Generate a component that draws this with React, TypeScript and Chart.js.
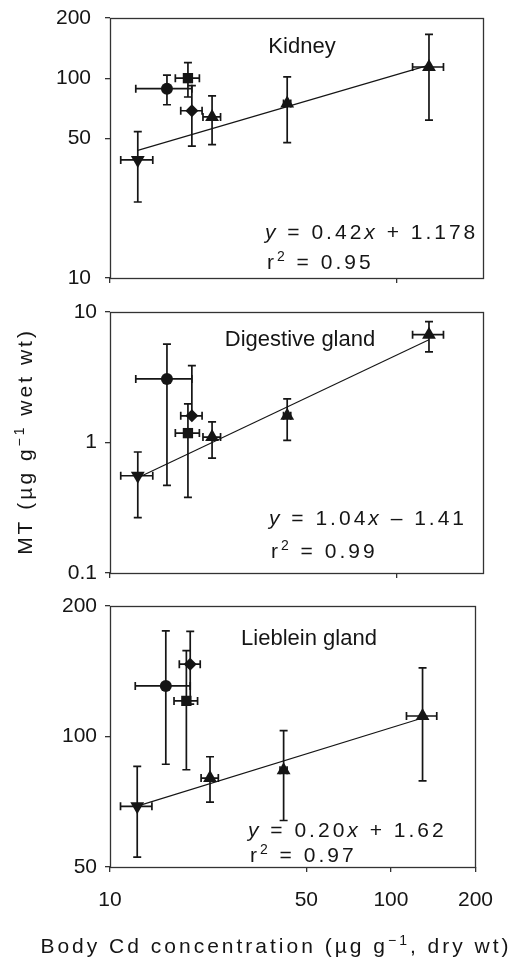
import React, { useEffect, useRef } from "react";
import { Chart, registerables } from "chart.js";

Chart.register(...registerables);

// ---------- data ----------
const bodyCd = [12.5, 15.8, 18.7, 19.3, 22.7, 41.5, 129.6];
const bodyCdErr = [1.6, 3.5, 1.8, 1.65, 1.6, 1.2, 16];
const markerStyles = ["down", "circle", "square", "diamond", "up", "up", "up"];

const kidneyMT = [39, 88.6, 100, 68.7, 64, 74.6, 113.7];
const kidneyErr = [15, 15, 19.5, 23, 17.5, 27, 52];

const digestiveMT = [0.556, 3.07, 1.18, 1.6, 1.1, 1.6, 6.7];
const digestiveErr = [0.29, 2.6, 0.8, 2.28, 0.34, 0.56, 1.75];

const liebleinMT = [69, 130.8, 120.8, 146.8, 80.2, 83.6, 111.5];
const liebleinErr = [16.3, 44.5, 37, 28, 9.6, 19.6, 32.5];

const panelLabels = ["Kidney", "Digestive gland", "Lieblein gland"];
const slopes = [0.42, 1.04, 0.2];
const intercepts = [1.178, -1.41, 1.62];
const slopeText = ["0.42", "1.04", "0.20"];
const signText = ["+", "\u2013", "+"];
const interceptText = ["1.178", "1.41", "1.62"];
const r2Text = ["0.95", "0.99", "0.97"];

const kidneyTicks = [10, 50, 100, 200];
const digestiveTicks = [0.1, 1, 10];
const liebleinTicks = [50, 100, 200];
const xTicksUpper = [10, 100];
const xTicksBottom = [10, 50, 100, 200];

const xTitleParts = ["Body Cd concentration (\u00b5g g", "\u22121", ", dry wt)"];
const yTitleParts = ["MT (\u00b5g g", "\u22121", " wet wt)"];

// ---------- styles ----------
const FAMILY = '"Liberation Sans", Arial, Helvetica, sans-serif';
const INK = "#151515";
const FRAME = "#333333";

type Seg = { t: string; italic?: boolean; sup?: boolean };

function drawRich(
  ctx: CanvasRenderingContext2D,
  segs: Seg[],
  x: number,
  y: number,
  size: number,
  spacing: number,
  align: "left" | "center"
) {
  const fontFor = (s: Seg) =>
    `${s.italic ? "italic " : ""}${s.sup ? Math.round(size * 0.65) : size}px ${FAMILY}`;
  (ctx as any).letterSpacing = spacing + "px";
  ctx.textBaseline = "alphabetic";
  ctx.textAlign = "left";
  const widths = segs.map((s) => {
    ctx.font = fontFor(s);
    return ctx.measureText(s.t).width;
  });
  const total = widths.reduce((a, b) => a + b, 0);
  let cx = align === "center" ? x - total / 2 : x;
  segs.forEach((s, i) => {
    ctx.font = fontFor(s);
    ctx.fillText(s.t, cx, s.sup ? y - size * 0.4 : y);
    cx += widths[i];
  });
  (ctx as any).letterSpacing = "0px";
}

const errorBarPlugin = {
  id: "errbars",
  beforeDatasetsDraw(chart: any) {
    const { ctx, chartArea, scales } = chart;
    const xs = scales.x;
    const ys = scales.y;
    ctx.save();
    ctx.strokeStyle = FRAME;
    ctx.lineWidth = 1.3;
    ctx.strokeRect(
      Math.round(chartArea.left) + 0.5,
      Math.round(chartArea.top) + 0.5,
      Math.round(chartArea.right - chartArea.left),
      Math.round(chartArea.bottom - chartArea.top)
    );
    ctx.strokeStyle = INK;
    ctx.lineWidth = 1.7;
    const cap = 4;
    chart.data.datasets.forEach((ds: any) => {
      if (!ds.errorBars) return;
      ds.data.forEach((p: any) => {
        const px = xs.getPixelForValue(p.x);
        const py = ys.getPixelForValue(p.y);
        const top = ys.getPixelForValue(p.y + p.yErr);
        ctx.beginPath();
        ctx.moveTo(px, py);
        ctx.lineTo(px, top);
        ctx.moveTo(px - cap, top);
        ctx.lineTo(px + cap, top);
        if (p.y - p.yErr > 0) {
          const bot = ys.getPixelForValue(p.y - p.yErr);
          ctx.moveTo(px, py);
          ctx.lineTo(px, bot);
          ctx.moveTo(px - cap, bot);
          ctx.lineTo(px + cap, bot);
        }
        const l = xs.getPixelForValue(p.x - p.xErr);
        const r = xs.getPixelForValue(p.x + p.xErr);
        ctx.moveTo(l, py);
        ctx.lineTo(r, py);
        ctx.moveTo(l, py - cap);
        ctx.lineTo(l, py + cap);
        ctx.moveTo(r, py - cap);
        ctx.lineTo(r, py + cap);
        ctx.stroke();
      });
    });
    ctx.restore();
  },
};

const textPlugin = {
  id: "paneltext",
  afterDraw(chart: any, _args: any, opts: any) {
    const ctx: CanvasRenderingContext2D = chart.ctx;
    ctx.save();
    ctx.fillStyle = INK;
    drawRich(ctx, [{ t: opts.label }], opts.labelPos[0], opts.labelPos[1], 22, 0, "center");
    drawRich(
      ctx,
      [
        { t: "y", italic: true },
        { t: " = " + opts.slope },
        { t: "x", italic: true },
        { t: " " + opts.sign + " " + opts.intercept },
      ],
      opts.eqPos[0],
      opts.eqPos[1],
      21,
      3,
      "left"
    );
    drawRich(
      ctx,
      [{ t: "r" }, { t: "2", sup: true }, { t: " = " + opts.r2 }],
      opts.r2Pos[0],
      opts.r2Pos[1],
      21,
      3,
      "left"
    );
    if (opts.xTitle) {
      drawRich(
        ctx,
        [{ t: xTitleParts[0] }, { t: xTitleParts[1], sup: true }, { t: xTitleParts[2] }],
        opts.xTitle[0],
        opts.xTitle[1],
        21,
        3,
        "center"
      );
    }
    if (opts.yTitle) {
      ctx.save();
      ctx.translate(opts.yTitle[0], opts.yTitle[1]);
      ctx.rotate(-Math.PI / 2);
      drawRich(
        ctx,
        [{ t: yTitleParts[0] }, { t: yTitleParts[1], sup: true }, { t: yTitleParts[2] }],
        0,
        0,
        21,
        3,
        "center"
      );
      ctx.restore();
    }
    ctx.restore();
  },
};

// ---------- layout ----------
const W = 509;
const panels = [
  {
    mt: kidneyMT, err: kidneyErr, yMin: 10, yMax: 200, yTicks: kidneyTicks, xTicks: xTicksUpper,
    showX: false, top: 0, height: 300, padTop: 18, xAxisH: 22, yPad: 14,
    labelPos: [302, 53], eqPos: [265, 239], r2Pos: [267, 269],
  },
  {
    mt: digestiveMT, err: digestiveErr, yMin: 0.1, yMax: 10, yTicks: digestiveTicks, xTicks: xTicksUpper,
    showX: false, top: 300, height: 290, padTop: 12, xAxisH: 17, yPad: 8,
    labelPos: [300, 46], eqPos: [269, 225], r2Pos: [271, 258], yTitle: [32, 141.5],
  },
  {
    mt: liebleinMT, err: liebleinErr, yMin: 50, yMax: 200, yTicks: liebleinTicks, xTicks: xTicksBottom,
    showX: true, top: 590, height: 367, padTop: 16, xAxisH: 90, yPad: 8,
    labelPos: [309, 55], eqPos: [248, 247], r2Pos: [250, 272], xTitle: [276, 363],
  },
];

function styleOf(s: string) {
  if (s === "circle") return { style: "circle", rot: 0, r: 6 };
  if (s === "square") return { style: "rect", rot: 0, r: 7.3 };
  if (s === "diamond") return { style: "rectRot", rot: 0, r: 6.5 };
  if (s === "down") return { style: "triangle", rot: 180, r: 8 };
  return { style: "triangle", rot: 0, r: 8 };
}

function makeChart(canvas: HTMLCanvasElement, idx: number) {
  const p: any = panels[idx];
  const pts = bodyCd.map((x, i) => ({ x, y: p.mt[i], xErr: bodyCdErr[i], yErr: p.err[i] }));
  const ends = [Math.min(...bodyCd), Math.max(...bodyCd)];
  const linePts = ends.map((x) => ({
    x,
    y: Math.pow(10, intercepts[idx] + slopes[idx] * Math.log10(x)),
  }));
  const st = markerStyles.map(styleOf);
  // small lineHeight keeps Chart.js from reserving extra vertical room for labels
  const yTickFont = { family: FAMILY, size: 21, lineHeight: 0.3 };
  return new Chart(canvas, {
    type: "scatter",
    data: {
      datasets: [
        {
          data: linePts,
          showLine: true,
          borderColor: INK,
          borderWidth: 1.1,
          pointRadius: 0,
          order: 2,
        } as any,
        {
          data: pts,
          errorBars: true,
          pointStyle: st.map((s) => s.style),
          rotation: st.map((s) => s.rot),
          pointRadius: st.map((s) => s.r),
          backgroundColor: INK,
          borderColor: INK,
          borderWidth: 0,
          order: 1,
        } as any,
      ],
    },
    options: {
      responsive: false,
      animation: false,
      devicePixelRatio: 1,
      layout: { padding: { top: p.padTop, right: W - 483, bottom: 0, left: 0 } },
      plugins: {
        legend: { display: false },
        tooltip: { enabled: false },
        paneltext: {
          label: panelLabels[idx],
          labelPos: p.labelPos,
          slope: slopeText[idx],
          sign: signText[idx],
          intercept: interceptText[idx],
          r2: r2Text[idx],
          eqPos: p.eqPos,
          r2Pos: p.r2Pos,
          xTitle: p.xTitle,
          yTitle: p.yTitle,
        },
      } as any,
      scales: {
        x: {
          type: "logarithmic",
          min: 10,
          max: 200,
          afterBuildTicks: (s: any) => {
            s.ticks = p.xTicks.map((v: number) => ({ value: v }));
          },
          afterFit: (s: any) => {
            s.height = p.xAxisH;
          },
          grid: { drawOnChartArea: false, drawTicks: true, tickLength: 5, color: FRAME, lineWidth: 1.3 },
          border: { display: false },
          ticks: {
            autoSkip: false,
            maxRotation: 0,
            padding: 16,
            color: INK,
            font: { family: FAMILY, size: 21 },
            callback: (v: any) => (p.showX ? String(v) : ""),
          },
        },
        y: {
          type: "logarithmic",
          min: p.yMin,
          max: p.yMax,
          afterBuildTicks: (s: any) => {
            s.ticks = p.yTicks.map((v: number) => ({ value: v }));
          },
          afterFit: (s: any) => {
            s.width = 110;
          },
          grid: { drawOnChartArea: false, drawTicks: true, tickLength: 5, color: FRAME, lineWidth: 1.3 },
          border: { display: false },
          ticks: {
            autoSkip: false,
            padding: p.yPad,
            color: INK,
            font: yTickFont,
            callback: (v: any) => String(v),
          },
        },
      },
    } as any,
    plugins: [errorBarPlugin, textPlugin],
  });
}

export default function App() {
  const r0 = useRef<HTMLCanvasElement>(null);
  const r1 = useRef<HTMLCanvasElement>(null);
  const r2 = useRef<HTMLCanvasElement>(null);
  useEffect(() => {
    const charts = [r0, r1, r2].map((r, i) => makeChart(r.current as HTMLCanvasElement, i));
    return () => charts.forEach((c) => c.destroy());
  }, []);
  const refs = [r0, r1, r2];
  return (
    <div style={{ position: "absolute", left: 0, top: 0, width: W, height: 957, background: "#fff" }}>
      {panels.map((p, i) => (
        <canvas
          key={i}
          ref={refs[i]}
          width={W}
          height={p.height}
          style={{ position: "absolute", left: 0, top: p.top, width: W, height: p.height }}
        />
      ))}
    </div>
  );
}
